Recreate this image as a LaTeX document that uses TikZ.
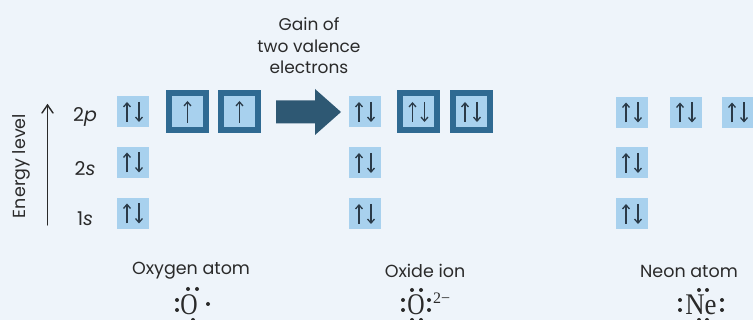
\documentclass[tikz,border=0pt]{standalone}
\usepackage{fontspec}
\setmainfont{Poppins}
\newfontfamily\lewisfont{Liberation Serif}
\usetikzlibrary{arrows.meta,calc}
\definecolor{bgc}{HTML}{EEF4FA}
\definecolor{lightb}{HTML}{A8D1EE}
\definecolor{darkb}{HTML}{2F6A92}
\definecolor{spinc}{HTML}{2A3A48}
\definecolor{bigarr}{HTML}{2E5873}
\definecolor{txt}{HTML}{2A2A2A}
\tikzset{
  lbox/.style={rectangle,fill=lightb,minimum width=32pt,minimum height=31pt,inner sep=0pt},
  dbox/.style={rectangle,fill=lightb,draw=darkb,line width=6pt,minimum size=37pt,inner sep=0pt},
  spin/.style={draw=spinc,line width=1.3pt,-{Straight Barb[length=4pt,width=7pt,line width=1.3pt]}},
  lbl/.style={text=txt,font=\fontsize{17.5}{20}\selectfont,inner sep=0pt},
  orb/.style={text=txt,font=\fontsize{19}{21}\selectfont,inner sep=0pt},
  lew/.style={text=txt,font=\lewisfont\fontsize{30}{32}\selectfont,inner sep=0pt,xscale=0.8},
  ldot/.style={fill=txt,circle,inner sep=0pt,minimum size=4pt},
  axisline/.style={draw=txt,line width=1.4pt,line cap=round,line join=miter},
}
\newcommand\pairspin[1]{%
  \draw[spin] (#1.center) ++(-6,10) -- ++(0,-20);
  \draw[spin] (#1.center) ++(6,-10) -- ++(0,20);}
\newcommand\upspin[1]{%
  \draw[spin] (#1.center) ++(0,11) -- ++(0,-22);}
\begin{document}
\begin{tikzpicture}[x=1pt,y=-1pt]
\fill[bgc] (0,0) rectangle (753,320);
\useasboundingbox (0,0) rectangle (753,320);
\begin{scope}
\clip (0,0) rectangle (753,320);
% energy axis
\coordinate (eb) at (47.5,225);
\coordinate (et) at (47.5,105);
\draw[axisline] (eb) -- (et);
\draw[axisline] ($(et)+(-5.5,8)$) -- (et) -- ($(et)+(5.5,8)$);
\node[lbl,rotate=90] (elab) at (21,166) {Energy level};
\node[orb] (l2p) at (85,117) {2\textit{p}};
\node[orb] (l2s) at (85,169) {2\textit{s}};
\node[orb] (l1s) at (85,219) {1\textit{s}};
% oxygen
\node[lbox] (o2s) at (133,162.5) {};
\node[lbox] (o1s) at (133,213.5) {};
\node[lbox] (o2p1) at (133,112) {};
\node[dbox] (o2p2) at (187.5,112) {};
\node[dbox] (o2p3) at (239.5,112) {};
\pairspin{o2p1}\pairspin{o2s}\pairspin{o1s}
\upspin{o2p2}\upspin{o2p3}
% big arrow
\node[inner sep=0pt,align=center,text=txt,font=\fontsize{17}{21.5}\selectfont] (ga) at (309,46) {Gain of\\two valence\\electrons};
\coordinate (aS) at (276,112);
\fill[bigarr] (aS) ++(0,-11.5) -- ++(39,0) -- ++(0,-11.5) -- (341,112) -- (315,135) -- ++(0,-11.5) -- ++(-39,0) -- cycle;
% oxide
\node[lbox] (x2p1) at (365,112) {};
\node[dbox] (x2p2) at (418.5,112) {};
\node[dbox] (x2p3) at (471,112) {};
\node[lbox] (x2s) at (365,163) {};
\node[lbox] (x1s) at (365,214) {};
\pairspin{x2p1}\pairspin{x2p2}\pairspin{x2p3}\pairspin{x2s}\pairspin{x1s}
% neon
\node[lbox] (n2p1) at (632,112.5) {};
\node[lbox] (n2p2) at (686,112.5) {};
\node[lbox] (n2p3) at (738,112.5) {};
\node[lbox] (n2s) at (632,163) {};
\node[lbox] (n1s) at (632,214) {};
\pairspin{n2p1}\pairspin{n2p2}\pairspin{n2p3}\pairspin{n2s}\pairspin{n1s}
% labels
\node[lbl] (oname) at (191,271) {Oxygen atom};
\node[lbl] (xname) at (425,271) {Oxide ion};
\node[lbl] (nname) at (689,271) {Neon atom};
% Lewis oxygen
\node[lew] (oL) at (189,305) {O};
\node[ldot] at (188,289) {};\node[ldot] at (197,289) {};
\node[ldot] at (177,300) {};\node[ldot] at (177,310) {};
\node[ldot] at (208,304) {};
\node[ldot] at (193,320) {};
% Lewis oxide
\node[lew] (xL) at (416,305) {O};
\node[ldot] at (412,290) {};\node[ldot] at (421,290) {};
\node[ldot] at (403,300) {};\node[ldot] at (403,310) {};
\node[ldot] at (429,300) {};\node[ldot] at (429,310) {};
\node[ldot] at (412,320) {};\node[ldot] at (421,320) {};
\node[text=txt,font=\lewisfont\fontsize{16}{18}\selectfont,inner sep=0pt,anchor=west] (xc) at (433,298) {2\textminus};
% Lewis neon
\node[lew,xscale=1.12] (nL) at (701,305) {Ne};
\node[ldot] at (699,290) {};\node[ldot] at (707,290) {};
\node[ldot] at (680,300) {};\node[ldot] at (680,310) {};
\node[ldot] at (722,300) {};\node[ldot] at (722,310) {};
\node[ldot] at (699,320) {};\node[ldot] at (707,320) {};
\end{scope}
\end{tikzpicture}
\end{document}
